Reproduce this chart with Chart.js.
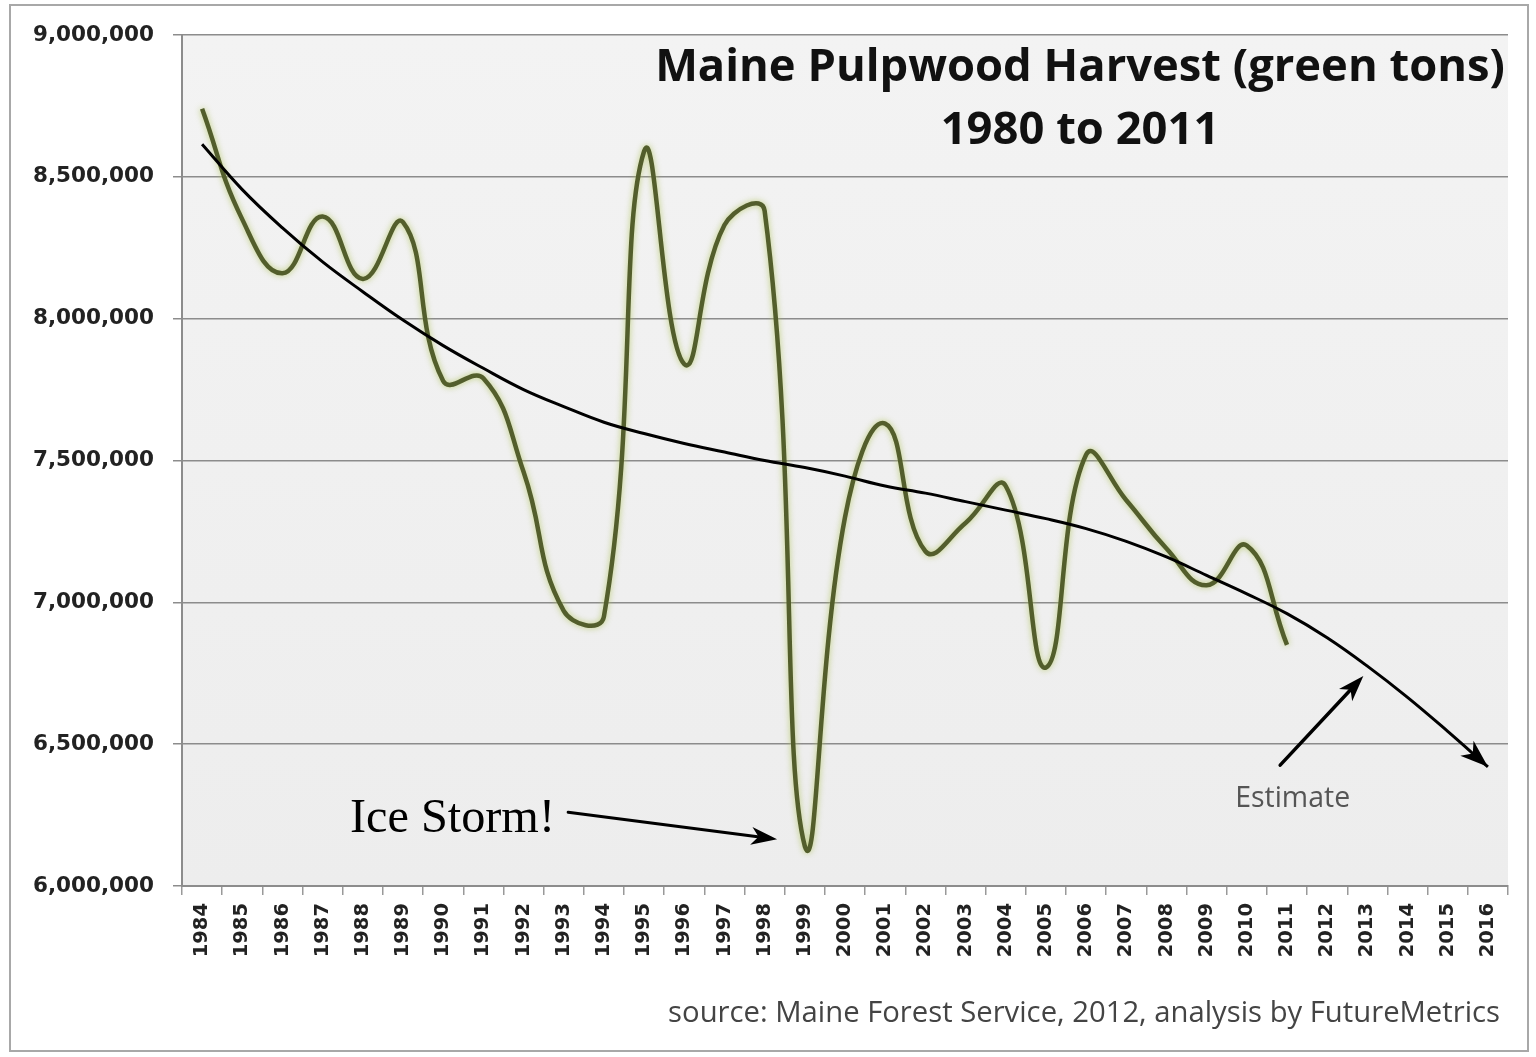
<!DOCTYPE html>
<html><head><meta charset="utf-8">
<script src="https://cdn.jsdelivr.net/npm/chart.js@4.4.1/dist/chart.umd.min.js"></script>
<style>html,body{margin:0;padding:0;background:#fff}#wrap{width:1536px;height:1057px;position:relative}</style>
</head><body><div id="wrap"><canvas id="c" width="1536" height="1057"></canvas></div>
<script>
const years = ['1984','1985','1986','1987','1988','1989','1990','1991','1992','1993','1994','1995','1996','1997','1998','1999','2000','2001','2002','2003','2004','2005','2006','2007','2008','2009','2010','2011','2012','2013','2014','2015','2016'];
const harvest = [8740000, 8350000, 8160000, 8360000, 8140000, 8340000, 7780000, 7790000, 7460000, 6970000, 6950000, 8590000, 7840000, 8330000, 8380000, 6140000, 7300000, 7630000, 7180000, 7280000, 7410000, 6770000, 7520000, 7360000, 7190000, 7060000, 7200000, 6850000, null, null, null, null, null];
const trend = [8615000, 8455000, 8320000, 8200000, 8095000, 7995000, 7905000, 7825000, 7750000, 7690000, 7635000, 7595000, 7560000, 7530000, 7500000, 7475000, 7445000, 7410000, 7385000, 7355000, 7325000, 7295000, 7260000, 7215000, 7160000, 7095000, 7030000, 6960000, 6875000, 6775000, 6665000, 6545000, 6420000];
const yMin = 6000000, yMax = 9000000, yStep = 500000;
const titleLines = ['Maine Pulpwood Harvest (green tons)', '1980 to 2011'];
const sourceNote = 'source: Maine Forest Service, 2012, analysis by FutureMetrics';
const iceStormLabel = 'Ice Storm!';
const estimateLabel = 'Estimate';

function fitFont(ctx, text, width, weight, family) {
  ctx.font = weight + ' 100px ' + family;
  const w = ctx.measureText(text).width;
  const size = 100 * width / w;
  return weight + ' ' + size.toFixed(2) + 'px ' + family;
}
function arrowHead(ctx, x0, y0, x1, y1, len, halfW) {
  const a = Math.atan2(y1 - y0, x1 - x0);
  ctx.save();
  ctx.translate(x1, y1); ctx.rotate(a);
  ctx.beginPath();
  ctx.moveTo(0, 0); ctx.lineTo(-len, -halfW); ctx.lineTo(-len * 0.72, 0); ctx.lineTo(-len, halfW);
  ctx.closePath(); ctx.fill();
  ctx.restore();
}
function arrow(ctx, x0, y0, x1, y1, w, len, halfW) {
  const a = Math.atan2(y1 - y0, x1 - x0);
  ctx.save();
  ctx.strokeStyle = '#000'; ctx.fillStyle = '#000'; ctx.lineWidth = w; ctx.lineCap = 'round';
  ctx.beginPath(); ctx.moveTo(x0, y0);
  ctx.lineTo(x1 - Math.cos(a) * len * 0.6, y1 - Math.sin(a) * len * 0.6); ctx.stroke();
  arrowHead(ctx, x0, y0, x1, y1, len, halfW);
  ctx.restore();
}

const decor = {
  id: 'decor',
  beforeDraw(chart) {
    const { ctx, chartArea: a } = chart;
    ctx.save();
    ctx.fillStyle = '#ffffff';
    ctx.fillRect(0, 0, chart.width, chart.height);
    ctx.strokeStyle = '#a8a8a8'; ctx.lineWidth = 2;
    ctx.strokeRect(10, 5, 1518, 1046);
    const g = ctx.createLinearGradient(0, a.top, 0, a.bottom);
    g.addColorStop(0, '#f3f3f3'); g.addColorStop(1, '#ededed');
    ctx.fillStyle = g;
    ctx.fillRect(a.left, a.top, a.right - a.left, a.bottom - a.top);
    ctx.restore();
  },
  beforeDatasetDraw(chart, args) {
    if (args.meta.dataset && chart.data.datasets[args.index].glow) {
      const ctx = chart.ctx; ctx.save();
      ctx.shadowColor = 'rgba(175,195,90,0.8)'; ctx.shadowBlur = 6;
    }
  },
  afterDatasetDraw(chart, args) {
    if (args.meta.dataset && chart.data.datasets[args.index].glow) chart.ctx.restore();
  },
  afterDatasetsDraw(chart) {
    const ctx = chart.ctx;
    const meta = chart.getDatasetMeta(0);
    const pts = meta.data;
    const last = pts[pts.length - 1];
    ctx.save(); ctx.fillStyle = '#000';
    arrowHead(ctx, last.cp1x, last.cp1y, last.x, last.y, 28, 10);
    ctx.restore();
  },
  afterDraw(chart) {
    const { ctx, chartArea: a, scales } = chart;
    const X = v => scales.x.getPixelForValue(v);
    const Y = v => scales.y.getPixelForValue(v);
    ctx.save();
    ctx.fillStyle = '#111'; ctx.textAlign = 'center'; ctx.textBaseline = 'alphabetic';
    ctx.font = fitFont(ctx, titleLines[0], 850, 'bold', '"Open Sans"');
    const cx = a.right - 428;
    ctx.fillText(titleLines[0], cx, a.top + 46);
    ctx.fillText(titleLines[1], cx, a.top + 109);
    ctx.fillStyle = '#444'; ctx.textAlign = 'right';
    ctx.font = fitFont(ctx, sourceNote, 832, 'normal', '"Open Sans"');
    ctx.fillText(sourceNote, a.right - 8, 1022);
    ctx.fillStyle = '#000'; ctx.textAlign = 'left';
    ctx.font = fitFont(ctx, iceStormLabel, 205, 'normal', '"Liberation Serif"');
    ctx.fillText(iceStormLabel, X(3.68), Y(6189000));
    arrow(ctx, X(9.11), Y(6260000), X(14.31), Y(6165000), 3, 26, 9);
    ctx.fillStyle = '#555'; ctx.textAlign = 'center';
    ctx.font = fitFont(ctx, estimateLabel, 115, 'normal', '"Open Sans"');
    ctx.fillText(estimateLabel, X(27.14), Y(6278000));
    arrow(ctx, X(26.83), Y(6426000), X(28.9), Y(6740000), 3.5, 26, 9);
    ctx.restore();
  }
};

const yTickValues = [];
for (let v = yMin; v <= yMax; v += yStep) yTickValues.push(v);

new Chart(document.getElementById('c'), {
  type: 'line',
  data: {
    labels: years,
    datasets: [
      { label: 'Trend', data: trend, borderColor: '#000', borderWidth: 3, pointRadius: 0, tension: 0.4, fill: false, order: 0 },
      { label: 'Harvest', data: harvest, borderColor: '#535e2c', borderWidth: 4.5, pointRadius: 0, tension: 0.45, fill: false, order: 1, glow: true }
    ]
  },
  options: {
    responsive: false, animation: false, devicePixelRatio: 1,
    layout: { padding: { left: 0, right: 28, top: 35, bottom: 0 } },
    plugins: { legend: { display: false }, tooltip: { enabled: false }, title: { display: false } },
    scales: {
      x: {
        type: 'category', offset: true,
        afterFit(s) { s.height = 171; },
        grid: { drawOnChartArea: false, drawTicks: true, tickLength: 9, color: '#999', lineWidth: 1.5, offset: true },
        border: { display: true, color: '#8c8c8c', width: 2 },
        ticks: { autoSkip: false, maxRotation: 90, minRotation: 90, padding: 8, color: '#222', font: { family: '"DejaVu Sans"', size: 19.5, weight: 'bold' } }
      },
      y: {
        min: yMin, max: yMax,
        afterFit(s) { s.width = 182; },
        afterBuildTicks(s) { s.ticks = yTickValues.map(v => ({ value: v })); },
        grid: { color: '#8c8c8c', lineWidth: 1.5, tickLength: 9, drawTicks: true },
        border: { display: true, color: '#8c8c8c', width: 2 },
        ticks: { padding: 19, color: '#222', font: { family: '"DejaVu Sans"', size: 21.5, weight: 'bold' },
          callback: v => Number(v).toLocaleString('en-US') }
      }
    }
  },
  plugins: [decor]
});
</script></body></html>
